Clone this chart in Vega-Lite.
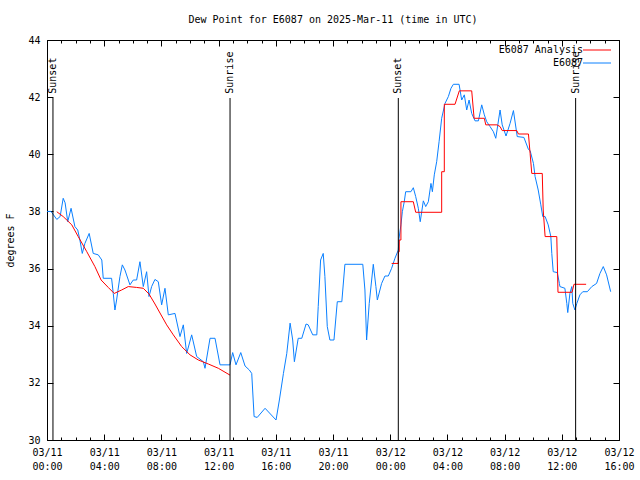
{
  "$schema": "https://vega.github.io/schema/vega-lite/v6.json",
  "width": 572,
  "height": 400,
  "autosize": {"type": "none"},
  "padding": {"left": 47, "top": 40, "right": 21, "bottom": 40},
  "background": "white",
  "view": {"stroke": "black", "strokeWidth": 1},
  "config": {
    "font": "DejaVu Sans Mono",
    "axis": {"labelFont": "DejaVu Sans Mono", "titleFont": "DejaVu Sans Mono", "labelFontSize": 10, "titleFontSize": 10, "titleFontWeight": "normal", "labelColor": "black", "titleColor": "black", "tickColor": "black", "grid": false, "domain": false},
    "legend": {"labelFont": "DejaVu Sans Mono", "labelFontSize": 10, "labelColor": "black"}
  },
  "title": {"text": "Dew Point for E6087 on 2025-Mar-11 (time in UTC)", "font": "DejaVu Sans Mono", "fontSize": 10, "fontWeight": "normal", "color": "black", "anchor": "middle", "baseline": "bottom", "offset": 0},
  "datasets": {
    "obs": [
      {"series": "E6087", "seg": "obs", "hour": 0, "value": 38.0},
      {"series": "E6087", "seg": "obs", "hour": 0.283, "value": 38.0},
      {"series": "E6087", "seg": "obs", "hour": 0.683, "value": 37.72},
      {"series": "E6087", "seg": "obs", "hour": 0.917, "value": 37.82},
      {"series": "E6087", "seg": "obs", "hour": 1.133, "value": 38.46},
      {"series": "E6087", "seg": "obs", "hour": 1.267, "value": 38.3},
      {"series": "E6087", "seg": "obs", "hour": 1.45, "value": 37.64},
      {"series": "E6087", "seg": "obs", "hour": 1.683, "value": 38.11},
      {"series": "E6087", "seg": "obs", "hour": 1.95, "value": 37.47},
      {"series": "E6087", "seg": "obs", "hour": 2.15, "value": 37.35},
      {"series": "E6087", "seg": "obs", "hour": 2.3, "value": 37.0},
      {"series": "E6087", "seg": "obs", "hour": 2.467, "value": 36.53},
      {"series": "E6087", "seg": "obs", "hour": 2.65, "value": 36.88},
      {"series": "E6087", "seg": "obs", "hour": 2.95, "value": 37.23},
      {"series": "E6087", "seg": "obs", "hour": 3.233, "value": 36.53},
      {"series": "E6087", "seg": "obs", "hour": 3.583, "value": 36.48},
      {"series": "E6087", "seg": "obs", "hour": 3.833, "value": 36.3},
      {"series": "E6087", "seg": "obs", "hour": 3.933, "value": 35.66},
      {"series": "E6087", "seg": "obs", "hour": 4.517, "value": 35.66},
      {"series": "E6087", "seg": "obs", "hour": 4.633, "value": 35.13},
      {"series": "E6087", "seg": "obs", "hour": 4.75, "value": 34.55},
      {"series": "E6087", "seg": "obs", "hour": 4.867, "value": 34.9},
      {"series": "E6087", "seg": "obs", "hour": 5.1, "value": 35.72},
      {"series": "E6087", "seg": "obs", "hour": 5.267, "value": 36.13},
      {"series": "E6087", "seg": "obs", "hour": 5.45, "value": 35.95},
      {"series": "E6087", "seg": "obs", "hour": 5.8, "value": 35.43},
      {"series": "E6087", "seg": "obs", "hour": 6.033, "value": 35.6},
      {"series": "E6087", "seg": "obs", "hour": 6.267, "value": 35.6},
      {"series": "E6087", "seg": "obs", "hour": 6.5, "value": 36.24},
      {"series": "E6087", "seg": "obs", "hour": 6.733, "value": 35.37},
      {"series": "E6087", "seg": "obs", "hour": 6.967, "value": 35.89},
      {"series": "E6087", "seg": "obs", "hour": 7.133, "value": 35.02},
      {"series": "E6087", "seg": "obs", "hour": 7.317, "value": 35.37},
      {"series": "E6087", "seg": "obs", "hour": 7.55, "value": 35.62},
      {"series": "E6087", "seg": "obs", "hour": 7.783, "value": 35.54},
      {"series": "E6087", "seg": "obs", "hour": 8.017, "value": 34.73},
      {"series": "E6087", "seg": "obs", "hour": 8.25, "value": 35.31},
      {"series": "E6087", "seg": "obs", "hour": 8.483, "value": 34.38},
      {"series": "E6087", "seg": "obs", "hour": 8.95, "value": 34.43},
      {"series": "E6087", "seg": "obs", "hour": 9.3, "value": 33.62},
      {"series": "E6087", "seg": "obs", "hour": 9.533, "value": 34.03},
      {"series": "E6087", "seg": "obs", "hour": 9.767, "value": 33.03},
      {"series": "E6087", "seg": "obs", "hour": 10.117, "value": 33.68},
      {"series": "E6087", "seg": "obs", "hour": 10.467, "value": 32.92},
      {"series": "E6087", "seg": "obs", "hour": 10.933, "value": 32.74},
      {"series": "E6087", "seg": "obs", "hour": 11.05, "value": 32.51},
      {"series": "E6087", "seg": "obs", "hour": 11.4, "value": 33.56},
      {"series": "E6087", "seg": "obs", "hour": 11.75, "value": 33.56},
      {"series": "E6087", "seg": "obs", "hour": 12.1, "value": 32.63},
      {"series": "E6087", "seg": "obs", "hour": 12.8, "value": 32.63},
      {"series": "E6087", "seg": "obs", "hour": 12.983, "value": 33.06},
      {"series": "E6087", "seg": "obs", "hour": 13.217, "value": 32.63},
      {"series": "E6087", "seg": "obs", "hour": 13.55, "value": 33.06},
      {"series": "E6087", "seg": "obs", "hour": 13.85, "value": 32.59},
      {"series": "E6087", "seg": "obs", "hour": 14.15, "value": 32.45},
      {"series": "E6087", "seg": "obs", "hour": 14.317, "value": 32.33},
      {"series": "E6087", "seg": "obs", "hour": 14.483, "value": 30.82},
      {"series": "E6087", "seg": "obs", "hour": 14.7, "value": 30.79},
      {"series": "E6087", "seg": "obs", "hour": 15.25, "value": 31.11},
      {"series": "E6087", "seg": "obs", "hour": 16.017, "value": 30.7},
      {"series": "E6087", "seg": "obs", "hour": 16.25, "value": 31.4},
      {"series": "E6087", "seg": "obs", "hour": 16.533, "value": 32.33},
      {"series": "E6087", "seg": "obs", "hour": 16.767, "value": 33.03},
      {"series": "E6087", "seg": "obs", "hour": 17.0, "value": 34.09},
      {"series": "E6087", "seg": "obs", "hour": 17.183, "value": 33.5},
      {"series": "E6087", "seg": "obs", "hour": 17.3, "value": 32.74},
      {"series": "E6087", "seg": "obs", "hour": 17.567, "value": 33.56},
      {"series": "E6087", "seg": "obs", "hour": 17.817, "value": 33.56},
      {"series": "E6087", "seg": "obs", "hour": 18.117, "value": 34.06},
      {"series": "E6087", "seg": "obs", "hour": 18.267, "value": 34.03},
      {"series": "E6087", "seg": "obs", "hour": 18.583, "value": 33.68},
      {"series": "E6087", "seg": "obs", "hour": 18.867, "value": 33.68},
      {"series": "E6087", "seg": "obs", "hour": 18.967, "value": 34.67},
      {"series": "E6087", "seg": "obs", "hour": 19.133, "value": 36.3},
      {"series": "E6087", "seg": "obs", "hour": 19.317, "value": 36.53},
      {"series": "E6087", "seg": "obs", "hour": 19.433, "value": 35.72},
      {"series": "E6087", "seg": "obs", "hour": 19.6, "value": 33.97},
      {"series": "E6087", "seg": "obs", "hour": 19.783, "value": 33.5},
      {"series": "E6087", "seg": "obs", "hour": 20.067, "value": 33.5},
      {"series": "E6087", "seg": "obs", "hour": 20.3, "value": 34.84},
      {"series": "E6087", "seg": "obs", "hour": 20.617, "value": 34.84},
      {"series": "E6087", "seg": "obs", "hour": 20.833, "value": 36.15},
      {"series": "E6087", "seg": "obs", "hour": 22.083, "value": 36.15},
      {"series": "E6087", "seg": "obs", "hour": 22.233, "value": 35.25},
      {"series": "E6087", "seg": "obs", "hour": 22.35, "value": 33.5},
      {"series": "E6087", "seg": "obs", "hour": 22.533, "value": 34.78},
      {"series": "E6087", "seg": "obs", "hour": 22.817, "value": 36.15},
      {"series": "E6087", "seg": "obs", "hour": 23.0, "value": 35.37},
      {"series": "E6087", "seg": "obs", "hour": 23.1, "value": 34.9},
      {"series": "E6087", "seg": "obs", "hour": 23.4, "value": 35.48},
      {"series": "E6087", "seg": "obs", "hour": 23.633, "value": 35.74},
      {"series": "E6087", "seg": "obs", "hour": 23.867, "value": 35.74},
      {"series": "E6087", "seg": "obs", "hour": 24.1, "value": 36.01},
      {"series": "E6087", "seg": "obs", "hour": 24.333, "value": 36.36},
      {"series": "E6087", "seg": "obs", "hour": 24.567, "value": 36.65},
      {"series": "E6087", "seg": "obs", "hour": 24.617, "value": 37.06},
      {"series": "E6087", "seg": "obs", "hour": 24.75, "value": 37.53},
      {"series": "E6087", "seg": "obs", "hour": 24.85, "value": 37.99},
      {"series": "E6087", "seg": "obs", "hour": 24.983, "value": 38.34},
      {"series": "E6087", "seg": "obs", "hour": 25.083, "value": 38.69},
      {"series": "E6087", "seg": "obs", "hour": 25.45, "value": 38.69},
      {"series": "E6087", "seg": "obs", "hour": 25.617, "value": 38.83},
      {"series": "E6087", "seg": "obs", "hour": 25.783, "value": 38.52},
      {"series": "E6087", "seg": "obs", "hour": 25.967, "value": 38.11},
      {"series": "E6087", "seg": "obs", "hour": 26.1, "value": 37.64},
      {"series": "E6087", "seg": "obs", "hour": 26.317, "value": 38.37},
      {"series": "E6087", "seg": "obs", "hour": 26.483, "value": 38.17},
      {"series": "E6087", "seg": "obs", "hour": 26.667, "value": 38.34},
      {"series": "E6087", "seg": "obs", "hour": 26.85, "value": 38.98},
      {"series": "E6087", "seg": "obs", "hour": 26.95, "value": 38.69},
      {"series": "E6087", "seg": "obs", "hour": 27.083, "value": 39.28},
      {"series": "E6087", "seg": "obs", "hour": 27.25, "value": 39.74},
      {"series": "E6087", "seg": "obs", "hour": 27.417, "value": 40.44},
      {"series": "E6087", "seg": "obs", "hour": 27.6, "value": 41.26},
      {"series": "E6087", "seg": "obs", "hour": 27.833, "value": 41.78},
      {"series": "E6087", "seg": "obs", "hour": 28.067, "value": 42.02},
      {"series": "E6087", "seg": "obs", "hour": 28.25, "value": 42.31},
      {"series": "E6087", "seg": "obs", "hour": 28.417, "value": 42.45},
      {"series": "E6087", "seg": "obs", "hour": 28.817, "value": 42.45},
      {"series": "E6087", "seg": "obs", "hour": 29.0, "value": 41.9},
      {"series": "E6087", "seg": "obs", "hour": 29.183, "value": 42.08},
      {"series": "E6087", "seg": "obs", "hour": 29.35, "value": 41.55},
      {"series": "E6087", "seg": "obs", "hour": 29.517, "value": 41.9},
      {"series": "E6087", "seg": "obs", "hour": 29.7, "value": 41.43},
      {"series": "E6087", "seg": "obs", "hour": 29.933, "value": 41.17},
      {"series": "E6087", "seg": "obs", "hour": 30.167, "value": 41.17},
      {"series": "E6087", "seg": "obs", "hour": 30.4, "value": 41.73},
      {"series": "E6087", "seg": "obs", "hour": 30.583, "value": 41.38},
      {"series": "E6087", "seg": "obs", "hour": 30.75, "value": 41.14},
      {"series": "E6087", "seg": "obs", "hour": 30.983, "value": 40.97},
      {"series": "E6087", "seg": "obs", "hour": 31.217, "value": 40.79},
      {"series": "E6087", "seg": "obs", "hour": 31.383, "value": 40.56},
      {"series": "E6087", "seg": "obs", "hour": 31.683, "value": 41.55},
      {"series": "E6087", "seg": "obs", "hour": 31.833, "value": 41.03},
      {"series": "E6087", "seg": "obs", "hour": 32.1, "value": 40.64},
      {"series": "E6087", "seg": "obs", "hour": 32.383, "value": 41.08},
      {"series": "E6087", "seg": "obs", "hour": 32.617, "value": 41.53},
      {"series": "E6087", "seg": "obs", "hour": 32.883, "value": 40.62},
      {"series": "E6087", "seg": "obs", "hour": 33.35, "value": 40.59},
      {"series": "E6087", "seg": "obs", "hour": 33.667, "value": 40.17},
      {"series": "E6087", "seg": "obs", "hour": 33.783, "value": 40.13},
      {"series": "E6087", "seg": "obs", "hour": 34.017, "value": 39.68},
      {"series": "E6087", "seg": "obs", "hour": 34.133, "value": 39.22},
      {"series": "E6087", "seg": "obs", "hour": 34.35, "value": 38.75},
      {"series": "E6087", "seg": "obs", "hour": 34.533, "value": 38.23},
      {"series": "E6087", "seg": "obs", "hour": 34.667, "value": 37.82},
      {"series": "E6087", "seg": "obs", "hour": 34.833, "value": 37.82},
      {"series": "E6087", "seg": "obs", "hour": 35.05, "value": 37.53},
      {"series": "E6087", "seg": "obs", "hour": 35.233, "value": 37.12},
      {"series": "E6087", "seg": "obs", "hour": 35.3, "value": 36.53},
      {"series": "E6087", "seg": "obs", "hour": 35.4, "value": 35.89},
      {"series": "E6087", "seg": "obs", "hour": 35.683, "value": 35.86},
      {"series": "E6087", "seg": "obs", "hour": 35.833, "value": 35.48},
      {"series": "E6087", "seg": "obs", "hour": 35.867, "value": 35.37},
      {"series": "E6087", "seg": "obs", "hour": 36.217, "value": 35.31},
      {"series": "E6087", "seg": "obs", "hour": 36.35, "value": 34.78},
      {"series": "E6087", "seg": "obs", "hour": 36.417, "value": 34.46},
      {"series": "E6087", "seg": "obs", "hour": 36.567, "value": 35.13},
      {"series": "E6087", "seg": "obs", "hour": 36.7, "value": 35.37},
      {"series": "E6087", "seg": "obs", "hour": 36.767, "value": 34.78},
      {"series": "E6087", "seg": "obs", "hour": 36.917, "value": 34.55},
      {"series": "E6087", "seg": "obs", "hour": 37.05, "value": 34.78},
      {"series": "E6087", "seg": "obs", "hour": 37.267, "value": 35.08},
      {"series": "E6087", "seg": "obs", "hour": 37.467, "value": 35.19},
      {"series": "E6087", "seg": "obs", "hour": 37.783, "value": 35.19},
      {"series": "E6087", "seg": "obs", "hour": 38.1, "value": 35.37},
      {"series": "E6087", "seg": "obs", "hour": 38.433, "value": 35.48},
      {"series": "E6087", "seg": "obs", "hour": 38.667, "value": 35.83},
      {"series": "E6087", "seg": "obs", "hour": 38.9, "value": 36.07},
      {"series": "E6087", "seg": "obs", "hour": 39.133, "value": 35.78},
      {"series": "E6087", "seg": "obs", "hour": 39.417, "value": 35.19},
      {"series": "E6087 Analysis", "seg": "a1", "hour": 0.683, "value": 37.99},
      {"series": "E6087 Analysis", "seg": "a1", "hour": 1.133, "value": 37.82},
      {"series": "E6087 Analysis", "seg": "a1", "hour": 1.733, "value": 37.53},
      {"series": "E6087 Analysis", "seg": "a1", "hour": 2.183, "value": 37.12},
      {"series": "E6087 Analysis", "seg": "a1", "hour": 2.783, "value": 36.59},
      {"series": "E6087 Analysis", "seg": "a1", "hour": 3.35, "value": 36.07},
      {"series": "E6087 Analysis", "seg": "a1", "hour": 3.783, "value": 35.6},
      {"series": "E6087 Analysis", "seg": "a1", "hour": 4.283, "value": 35.34},
      {"series": "E6087 Analysis", "seg": "a1", "hour": 4.7, "value": 35.13},
      {"series": "E6087 Analysis", "seg": "a1", "hour": 5.217, "value": 35.25},
      {"series": "E6087 Analysis", "seg": "a1", "hour": 5.683, "value": 35.37},
      {"series": "E6087 Analysis", "seg": "a1", "hour": 6.267, "value": 35.34},
      {"series": "E6087 Analysis", "seg": "a1", "hour": 6.733, "value": 35.31},
      {"series": "E6087 Analysis", "seg": "a1", "hour": 7.133, "value": 35.11},
      {"series": "E6087 Analysis", "seg": "a1", "hour": 7.55, "value": 34.76},
      {"series": "E6087 Analysis", "seg": "a1", "hour": 7.783, "value": 34.55},
      {"series": "E6087 Analysis", "seg": "a1", "hour": 8.367, "value": 34.03},
      {"series": "E6087 Analysis", "seg": "a1", "hour": 8.833, "value": 33.68},
      {"series": "E6087 Analysis", "seg": "a1", "hour": 9.417, "value": 33.27},
      {"series": "E6087 Analysis", "seg": "a1", "hour": 10.0, "value": 32.98},
      {"series": "E6087 Analysis", "seg": "a1", "hour": 10.583, "value": 32.8},
      {"series": "E6087 Analysis", "seg": "a1", "hour": 11.283, "value": 32.66},
      {"series": "E6087 Analysis", "seg": "a1", "hour": 11.983, "value": 32.51},
      {"series": "E6087 Analysis", "seg": "a1", "hour": 12.8, "value": 32.27},
      {"series": "E6087 Analysis", "seg": "a2", "hour": 24.1, "value": 36.18},
      {"series": "E6087 Analysis", "seg": "a2", "hour": 24.567, "value": 36.18},
      {"series": "E6087 Analysis", "seg": "a2", "hour": 24.567, "value": 36.59},
      {"series": "E6087 Analysis", "seg": "a2", "hour": 24.633, "value": 36.59},
      {"series": "E6087 Analysis", "seg": "a2", "hour": 24.633, "value": 37.0},
      {"series": "E6087 Analysis", "seg": "a2", "hour": 24.75, "value": 37.0},
      {"series": "E6087 Analysis", "seg": "a2", "hour": 24.75, "value": 38.34},
      {"series": "E6087 Analysis", "seg": "a2", "hour": 25.617, "value": 38.34},
      {"series": "E6087 Analysis", "seg": "a2", "hour": 25.783, "value": 37.97},
      {"series": "E6087 Analysis", "seg": "a2", "hour": 27.6, "value": 37.97},
      {"series": "E6087 Analysis", "seg": "a2", "hour": 27.6, "value": 39.39},
      {"series": "E6087 Analysis", "seg": "a2", "hour": 27.783, "value": 39.39},
      {"series": "E6087 Analysis", "seg": "a2", "hour": 27.783, "value": 41.75},
      {"series": "E6087 Analysis", "seg": "a2", "hour": 28.533, "value": 41.75},
      {"series": "E6087 Analysis", "seg": "a2", "hour": 28.833, "value": 42.22},
      {"series": "E6087 Analysis", "seg": "a2", "hour": 29.7, "value": 42.22},
      {"series": "E6087 Analysis", "seg": "a2", "hour": 29.867, "value": 41.26},
      {"series": "E6087 Analysis", "seg": "a2", "hour": 30.583, "value": 41.26},
      {"series": "E6087 Analysis", "seg": "a2", "hour": 30.683, "value": 41.03},
      {"series": "E6087 Analysis", "seg": "a2", "hour": 31.467, "value": 41.03},
      {"series": "E6087 Analysis", "seg": "a2", "hour": 31.683, "value": 40.97},
      {"series": "E6087 Analysis", "seg": "a2", "hour": 31.833, "value": 40.83},
      {"series": "E6087 Analysis", "seg": "a2", "hour": 32.85, "value": 40.83},
      {"series": "E6087 Analysis", "seg": "a2", "hour": 32.967, "value": 40.71},
      {"series": "E6087 Analysis", "seg": "a2", "hour": 33.667, "value": 40.71},
      {"series": "E6087 Analysis", "seg": "a2", "hour": 33.783, "value": 40.03},
      {"series": "E6087 Analysis", "seg": "a2", "hour": 33.9, "value": 39.33},
      {"series": "E6087 Analysis", "seg": "a2", "hour": 34.633, "value": 39.33},
      {"series": "E6087 Analysis", "seg": "a2", "hour": 34.7, "value": 38.05},
      {"series": "E6087 Analysis", "seg": "a2", "hour": 34.833, "value": 37.12},
      {"series": "E6087 Analysis", "seg": "a2", "hour": 35.65, "value": 37.12},
      {"series": "E6087 Analysis", "seg": "a2", "hour": 35.733, "value": 35.17},
      {"series": "E6087 Analysis", "seg": "a2", "hour": 36.717, "value": 35.17},
      {"series": "E6087 Analysis", "seg": "a2", "hour": 36.85, "value": 35.45},
      {"series": "E6087 Analysis", "seg": "a2", "hour": 37.7, "value": 35.45}
    ],
    "events": [
      {"hour": 0.417, "label": "Sunset"},
      {"hour": 12.8, "label": "Sunrise"},
      {"hour": 24.567, "label": "Sunset"},
      {"hour": 36.967, "label": "Sunrise"}
    ]
  },
  "layer": [
    {
      "data": {"name": "obs"},
      "mark": {"type": "line", "strokeWidth": 1, "clip": true},
      "encoding": {
        "x": {
          "field": "hour", "type": "quantitative",
          "scale": {"domain": [0, 40], "nice": false, "zero": false},
          "axis": {
            "orient": "bottom", "title": null,
            "values": [0, 4, 8, 12, 16, 20, 24, 28, 32, 36, 40],
            "tickSize": -6,
            "labelExpr": "[datum.value < 24 ? '03/11' : '03/12', (datum.value % 24 < 10 ? '0' : '') + (datum.value % 24) + ':00']",
            "labelOverlap": false, "labelFlush": false, "labelBound": false,
            "labelPadding": 13, "labelLineHeight": 14, "labelBaseline": "top", "labelAlign": "center"
          }
        },
        "y": {
          "field": "value", "type": "quantitative",
          "scale": {"domain": [30, 44], "nice": false, "zero": false},
          "axis": {
            "orient": "left", "title": "degrees F",
            "values": [30, 32, 34, 36, 38, 40, 42, 44],
            "tickSize": -6, "labelPadding": 13,
            "titleX": -37, "titleY": 200, "titleAngle": 270, "titleBaseline": "middle", "titleAlign": "center"
          }
        },
        "color": {
          "field": "series", "type": "nominal",
          "scale": {"domain": ["E6087 Analysis", "E6087"], "range": ["#ff0000", "#0a80ff"]},
          "legend": {
            "title": null, "orient": "none", "legendX": 545, "legendY": 5,
            "symbolType": "M-5.6,0H5.6", "symbolSize": 25, "symbolStrokeWidth": 1,
            "labelAlign": "right", "labelOffset": -19, "rowPadding": 3, "padding": 0, "labelLimit": 300
          }
        },
        "detail": {"field": "seg"}
      }
    },
    {
      "data": {"name": "events"},
      "mark": {"type": "rule", "color": "black", "strokeWidth": 1},
      "encoding": {
        "x": {
          "field": "hour", "type": "quantitative",
          "axis": {"orient": "top", "title": null, "labels": false, "values": [0, 4, 8, 12, 16, 20, 24, 28, 32, 36, 40], "tickSize": -6}
        },
        "y": {"datum": 30, "type": "quantitative", "axis": {"orient": "right", "title": null, "labels": false, "values": [30, 32, 34, 36, 38, 40, 42, 44], "tickSize": -6}},
        "y2": {"datum": 41.97}
      }
    },
    {
      "data": {"name": "events"},
      "mark": {"type": "text", "angle": 270, "align": "left", "baseline": "middle", "font": "DejaVu Sans Mono", "fontSize": 10, "color": "black"},
      "encoding": {
        "x": {"field": "hour", "type": "quantitative", "axis": {"orient": "bottom", "title": null, "labels": false, "values": [0, 1, 2, 3, 4, 5, 6, 7, 8, 9, 10, 11, 12, 13, 14, 15, 16, 17, 18, 19, 20, 21, 22, 23, 24, 25, 26, 27, 28, 29, 30, 31, 32, 33, 34, 35, 36, 37, 38, 39, 40], "tickSize": -3}},
        "y": {"datum": 42.12, "type": "quantitative", "axis": null},
        "text": {"field": "label"}
      }
    },
    {
      "data": {"name": "events"},
      "mark": {"type": "rule", "strokeOpacity": 0},
      "encoding": {
        "x": {"field": "hour", "type": "quantitative", "axis": {"orient": "top", "title": null, "labels": false, "values": [0, 1, 2, 3, 4, 5, 6, 7, 8, 9, 10, 11, 12, 13, 14, 15, 16, 17, 18, 19, 20, 21, 22, 23, 24, 25, 26, 27, 28, 29, 30, 31, 32, 33, 34, 35, 36, 37, 38, 39, 40], "tickSize": -3}},
        "y": {"datum": 30, "type": "quantitative", "axis": null},
        "y2": {"datum": 41.97}
      }
    }
  ],
  "resolve": {"axis": {"x": "independent", "y": "independent"}}
}
